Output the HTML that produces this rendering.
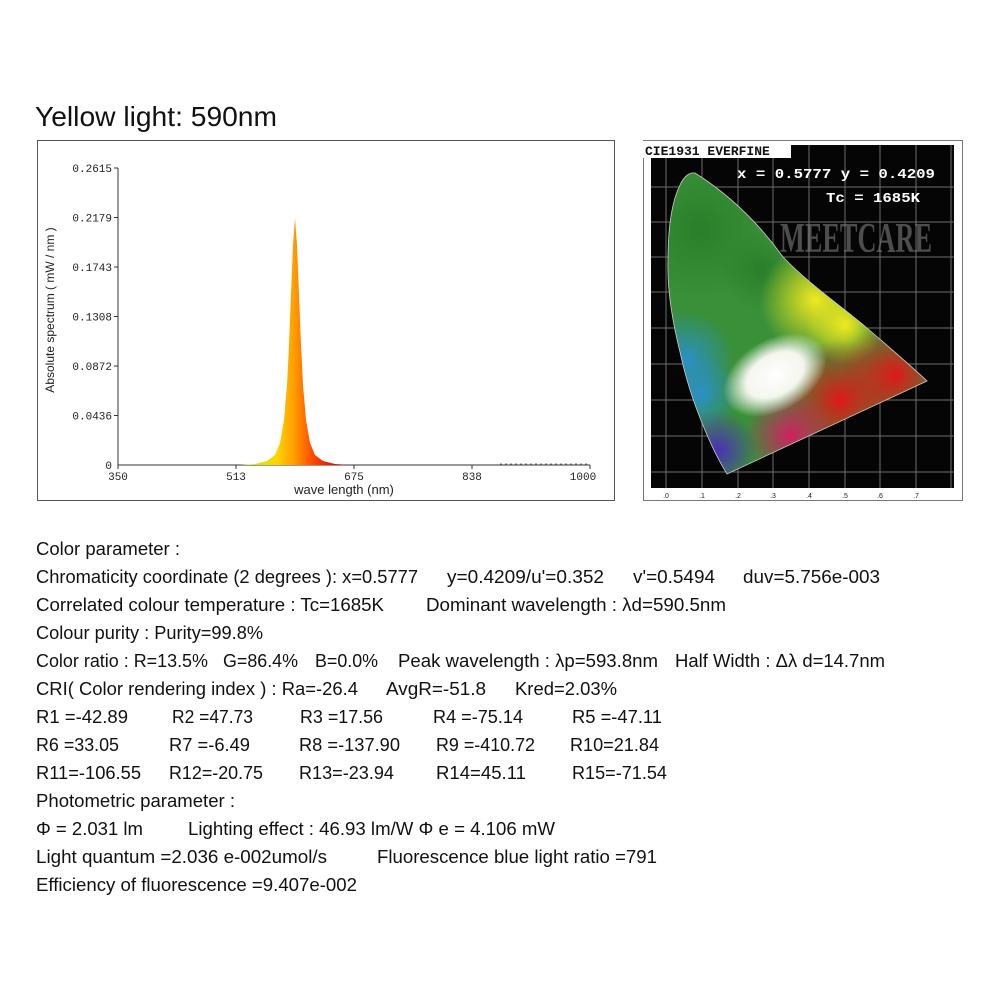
<!DOCTYPE html>
<html><head><meta charset="utf-8"><style>
body{margin:0;width:1000px;height:1000px;background:#fff;position:relative;overflow:hidden;font-family:"Liberation Sans",sans-serif;color:#111}
</style></head><body>
<svg style="position:absolute;left:0;top:0" width="1000" height="1000">
<defs>
<linearGradient id="sp" x1="250" y1="0" x2="340" y2="0" gradientUnits="userSpaceOnUse">
<stop offset="0" stop-color="#c8f000"/><stop offset="0.3" stop-color="#ffd400"/>
<stop offset="0.5" stop-color="#ff9a00"/><stop offset="0.68" stop-color="#ff5000"/><stop offset="1" stop-color="#d80000"/>
</linearGradient>
<clipPath id="hs"><path id="hsp" d="M727,474 C712,450 690,400 680,352 C672,320 667,290 668,260 C668,235 670,205 680,185 C684,176 690,172 695,173 C730,195 760,225 783,257 C810,285 840,305 867,328 C890,348 910,365 927,381 Z"/></clipPath>
<radialGradient id="gG"><stop offset="0" stop-color="#2a7f2a"/><stop offset="1" stop-color="#2a7f2a" stop-opacity="0"/></radialGradient>
<radialGradient id="gY"><stop offset="0" stop-color="#f0ea20"/><stop offset="1" stop-color="#f0ea20" stop-opacity="0"/></radialGradient>
<radialGradient id="gR"><stop offset="0" stop-color="#e01818"/><stop offset="1" stop-color="#e01818" stop-opacity="0"/></radialGradient>
<radialGradient id="gB"><stop offset="0" stop-color="#2a90c8"/><stop offset="1" stop-color="#2a90c8" stop-opacity="0"/></radialGradient>
<radialGradient id="gP"><stop offset="0" stop-color="#4a30b8"/><stop offset="1" stop-color="#4a30b8" stop-opacity="0"/></radialGradient>
<radialGradient id="gM"><stop offset="0" stop-color="#d02060"/><stop offset="1" stop-color="#d02060" stop-opacity="0"/></radialGradient>
<radialGradient id="gW"><stop offset="0" stop-color="#ffffff"/><stop offset="0.55" stop-color="#f4f6ee"/><stop offset="1" stop-color="#ffffff" stop-opacity="0"/></radialGradient>
</defs>
<text x="35" y="126" font-size="28" fill="#111" textLength="242" lengthAdjust="spacingAndGlyphs">Yellow light: 590nm</text>
<rect x="37.5" y="140.5" width="577" height="360" fill="#fff" stroke="#555" stroke-width="1"/>
<line x1="118" y1="168" x2="118" y2="465" stroke="#333"/>
<line x1="118" y1="465" x2="590" y2="465" stroke="#333"/>
<g stroke="#333">
<line x1="114" y1="168" x2="118" y2="168"/><line x1="114" y1="217.5" x2="118" y2="217.5"/><line x1="114" y1="267" x2="118" y2="267"/>
<line x1="114" y1="316.5" x2="118" y2="316.5"/><line x1="114" y1="366" x2="118" y2="366"/><line x1="114" y1="415.5" x2="118" y2="415.5"/>
<line x1="118" y1="465" x2="118" y2="469"/><line x1="236" y1="465" x2="236" y2="469"/><line x1="354" y1="465" x2="354" y2="469"/>
<line x1="472" y1="465" x2="472" y2="469"/><line x1="590" y1="465" x2="590" y2="469"/>
</g>
<g font-family="Liberation Mono, monospace" font-size="11" fill="#222" text-anchor="end">
<text x="112" y="172">0.2615</text><text x="112" y="221.5">0.2179</text><text x="112" y="271">0.1743</text>
<text x="112" y="320.5">0.1308</text><text x="112" y="370">0.0872</text><text x="112" y="419.5">0.0436</text><text x="112" y="469">0</text>
</g>
<g font-family="Liberation Mono, monospace" font-size="11" fill="#222" text-anchor="middle">
<text x="118" y="480">350</text><text x="236" y="480">513</text><text x="354" y="480">675</text><text x="472" y="480">838</text><text x="583" y="480">1000</text>
</g>
<text x="344" y="494" font-size="13" text-anchor="middle" fill="#222">wave length (nm)</text>
<text transform="translate(54,310) rotate(-90)" font-size="12" text-anchor="middle" fill="#222">Absolute spectrum ( mW / nm )</text>
<path d="M240,465 L255,464 L267,461 L275,455 L280,443 L284,420 L287,385 L289,345 L291,295 L293,245 L295,218 L297,245 L299,295 L301,345 L303,385 L306,420 L310,443 L315,455 L323,461 L335,464 L350,465 Z" fill="url(#sp)"/>
<line x1="500" y1="464" x2="588" y2="464" stroke="#777" stroke-dasharray="2,3"/>

<rect x="643.5" y="140.5" width="319" height="360" fill="#fff" stroke="#777"/>
<rect x="651" y="145" width="303" height="343" fill="#050505"/>
<g stroke="#999" stroke-width="1" opacity="0.7">
<line x1="666" y1="145" x2="666" y2="488"/><line x1="702" y1="145" x2="702" y2="488"/><line x1="738" y1="145" x2="738" y2="488"/>
<line x1="773" y1="145" x2="773" y2="488"/><line x1="809" y1="145" x2="809" y2="488"/><line x1="845" y1="145" x2="845" y2="488"/>
<line x1="880" y1="145" x2="880" y2="488"/><line x1="916" y1="145" x2="916" y2="488"/><line x1="951" y1="145" x2="951" y2="488"/>
<line x1="651" y1="472" x2="954" y2="472"/><line x1="651" y1="436" x2="954" y2="436"/><line x1="651" y1="400" x2="954" y2="400"/>
<line x1="651" y1="364" x2="954" y2="364"/><line x1="651" y1="328" x2="954" y2="328"/><line x1="651" y1="292" x2="954" y2="292"/>
<line x1="651" y1="257" x2="954" y2="257"/><line x1="651" y1="222" x2="954" y2="222"/><line x1="651" y1="187" x2="954" y2="187"/>
</g>
<g font-size="7" fill="#222" text-anchor="middle">
<text x="666" y="498">.0</text><text x="702" y="498">.1</text><text x="738" y="498">.2</text><text x="773" y="498">.3</text><text x="809" y="498">.4</text><text x="845" y="498">.5</text><text x="880" y="498">.6</text><text x="916" y="498">.7</text>
</g>
<text x="780" y="252" font-family="Liberation Serif, serif" font-size="42" font-weight="bold" fill="#888" opacity="0.55" textLength="152" lengthAdjust="spacingAndGlyphs">MEETCARE</text>
<g clip-path="url(#hs)">
<rect x="650" y="160" width="300" height="330" fill="#3a9038"/>
<circle cx="700" cy="230" r="70" fill="url(#gG)"/>
<circle cx="760" cy="270" r="40" fill="url(#gG)"/>
<circle cx="815" cy="300" r="55" fill="url(#gY)"/>
<circle cx="845" cy="325" r="40" fill="url(#gY)"/>
<circle cx="895" cy="375" r="55" fill="url(#gR)"/>
<circle cx="840" cy="400" r="60" fill="url(#gR)"/>
<circle cx="790" cy="435" r="45" fill="url(#gM)"/>
<circle cx="685" cy="360" r="50" fill="url(#gB)"/>
<circle cx="700" cy="395" r="40" fill="url(#gB)"/>
<circle cx="718" cy="450" r="40" fill="url(#gP)"/>
<ellipse cx="775" cy="375" rx="56" ry="36" transform="rotate(-30 775 375)" fill="url(#gW)"/>
</g>
<use href="#hsp" fill="none" stroke="#ccc" stroke-width="0.8"/>
<rect x="643" y="141" width="148" height="17" fill="#fff"/>
<text x="645" y="155" font-family="Liberation Mono, monospace" font-weight="bold" font-size="13" fill="#111">CIE1931 EVERFINE</text>
<text x="737" y="178" font-family="Liberation Mono, monospace" font-weight="bold" font-size="14" fill="#fff" textLength="198" lengthAdjust="spacingAndGlyphs">x = 0.5777 y = 0.4209</text>
<text x="826" y="202" font-family="Liberation Mono, monospace" font-weight="bold" font-size="14" fill="#fff" textLength="94" lengthAdjust="spacingAndGlyphs">Tc = 1685K</text>

<g font-size="18" fill="#111">
<text x="36" y="555" textLength="144" lengthAdjust="spacingAndGlyphs">Color parameter :</text>
<text x="36" y="583" textLength="382" lengthAdjust="spacingAndGlyphs">Chromaticity coordinate (2 degrees ): x=0.5777</text>
<text x="447" y="583" textLength="157" lengthAdjust="spacingAndGlyphs">y=0.4209/u'=0.352</text>
<text x="633" y="583" textLength="82" lengthAdjust="spacingAndGlyphs">v'=0.5494</text>
<text x="743" y="583" textLength="137" lengthAdjust="spacingAndGlyphs">duv=5.756e-003</text>
<text x="36" y="611" textLength="348" lengthAdjust="spacingAndGlyphs">Correlated colour temperature : Tc=1685K</text>
<text x="426" y="611" textLength="300" lengthAdjust="spacingAndGlyphs">Dominant wavelength : λd=590.5nm</text>
<text x="36" y="639" textLength="227" lengthAdjust="spacingAndGlyphs">Colour purity : Purity=99.8%</text>
<text x="36" y="667" textLength="172" lengthAdjust="spacingAndGlyphs">Color ratio : R=13.5%</text>
<text x="223" y="667" textLength="75" lengthAdjust="spacingAndGlyphs">G=86.4%</text>
<text x="315" y="667" textLength="63" lengthAdjust="spacingAndGlyphs">B=0.0%</text>
<text x="398" y="667" textLength="260" lengthAdjust="spacingAndGlyphs">Peak wavelength : λp=593.8nm</text>
<text x="675" y="667" textLength="210" lengthAdjust="spacingAndGlyphs">Half Width : Δλ d=14.7nm</text>
<text x="36" y="695" textLength="322" lengthAdjust="spacingAndGlyphs">CRI( Color rendering index ) : Ra=-26.4</text>
<text x="386" y="695" textLength="100" lengthAdjust="spacingAndGlyphs">AvgR=-51.8</text>
<text x="515" y="695" textLength="102" lengthAdjust="spacingAndGlyphs">Kred=2.03%</text>
<text x="36" y="723" textLength="92" lengthAdjust="spacingAndGlyphs">R1 =-42.89</text>
<text x="172" y="723" textLength="81" lengthAdjust="spacingAndGlyphs">R2 =47.73</text>
<text x="300" y="723" textLength="83" lengthAdjust="spacingAndGlyphs">R3 =17.56</text>
<text x="433" y="723" textLength="90" lengthAdjust="spacingAndGlyphs">R4 =-75.14</text>
<text x="572" y="723" textLength="90" lengthAdjust="spacingAndGlyphs">R5 =-47.11</text>
<text x="36" y="751" textLength="83" lengthAdjust="spacingAndGlyphs">R6 =33.05</text>
<text x="169" y="751" textLength="81" lengthAdjust="spacingAndGlyphs">R7 =-6.49</text>
<text x="299" y="751" textLength="101" lengthAdjust="spacingAndGlyphs">R8 =-137.90</text>
<text x="436" y="751" textLength="99" lengthAdjust="spacingAndGlyphs">R9 =-410.72</text>
<text x="570" y="751" textLength="89" lengthAdjust="spacingAndGlyphs">R10=21.84</text>
<text x="36" y="779" textLength="105" lengthAdjust="spacingAndGlyphs">R11=-106.55</text>
<text x="169" y="779" textLength="94" lengthAdjust="spacingAndGlyphs">R12=-20.75</text>
<text x="299" y="779" textLength="95" lengthAdjust="spacingAndGlyphs">R13=-23.94</text>
<text x="436" y="779" textLength="90" lengthAdjust="spacingAndGlyphs">R14=45.11</text>
<text x="572" y="779" textLength="95" lengthAdjust="spacingAndGlyphs">R15=-71.54</text>
<text x="36" y="807" textLength="199" lengthAdjust="spacingAndGlyphs">Photometric parameter :</text>
<text x="36" y="835" textLength="107" lengthAdjust="spacingAndGlyphs">Φ = 2.031 lm</text>
<text x="188" y="835" textLength="367" lengthAdjust="spacingAndGlyphs">Lighting effect : 46.93 lm/W Φ e = 4.106 mW</text>
<text x="36" y="863" textLength="291" lengthAdjust="spacingAndGlyphs">Light quantum =2.036 e-002umol/s</text>
<text x="377" y="863" textLength="280" lengthAdjust="spacingAndGlyphs">Fluorescence blue light ratio =791</text>
<text x="36" y="891" textLength="321" lengthAdjust="spacingAndGlyphs">Efficiency of fluorescence =9.407e-002</text>
</g>
</svg>
</body></html>
